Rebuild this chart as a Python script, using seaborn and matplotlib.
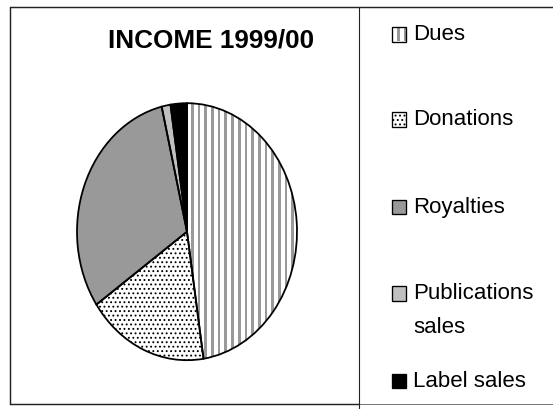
import matplotlib
matplotlib.use("Agg")
import matplotlib.pyplot as plt
from matplotlib.lines import Line2D
from matplotlib.patches import Rectangle
import numpy as np
import seaborn as sns

# data (share of income, %)
categories = ["Dues", "Donations", "Royalties", "Publications\nsales", "Label sales"]
shares = [47.6, 17.8, 30.9, 1.3, 2.4]
title = "INCOME 1999/00"

# styling per slice ("stripes" = grey/white vertical stripe texture)
face_colors = ["white", "white", "#999999", "#c0c0c0", "black"]
hatch_colors = ["#999999", "black", "#999999", "#c0c0c0", "black"]
hatches = ["stripes", "...", None, None, None]

sns.set_theme(style="white")
plt.rcParams["font.family"] = ["Liberation Sans", "DejaVu Sans"]

W, H, DPI = 553, 409, 80
fig = plt.figure(figsize=(W / DPI, H / DPI), dpi=DPI)
fig.patch.set_facecolor("white")


def fx(px):
    return px / W


def fy(py):
    return 1 - py / H


def stripe_texture(width_px, period=6.7, band=2.7, color="#999999", sub=4):
    n = int(round(width_px * sub))
    pos = np.arange(n) / sub
    grey = np.array(matplotlib.colors.to_rgb(color))
    img = np.ones((1, n, 3))
    img[0, (pos % period) < band] = grey
    return img


def fill_patch(axis, patch, style, color, extent, width_px):
    if style == "stripes":
        im = axis.imshow(stripe_texture(width_px, color=color), extent=extent,
                         aspect="auto", interpolation="nearest", zorder=patch.get_zorder())
        im.set_clip_path(patch)
    elif style:
        patch.set_hatch(style)
        patch.set_edgecolor(color)


# elliptical pie: axes stretched, aspect left free
cx, cy, rx, ry = 187, 231.7, 110, 128.5
ax = fig.add_axes([fx(cx - rx), fy(cy + ry), 2 * rx / W, 2 * ry / H])

wedges, _ = ax.pie(shares, startangle=90, counterclock=False, colors=face_colors,
                   wedgeprops=dict(linewidth=0, clip_on=False))
for w, h, hc in zip(wedges, hatches, hatch_colors):
    fill_patch(ax, w, h, hc, (-1, 1, -1, 1), 2 * rx)

ax.pie(shares, startangle=90, counterclock=False,
       wedgeprops=dict(fill=False, edgecolor="black", linewidth=1.6, clip_on=False,
                       zorder=5))
ax.set_aspect("auto")
ax.set_xlim(-1, 1)
ax.set_ylim(-1, 1)
ax.axis("off")

# overlay axes in pixel units for title, legend and frame
ov = fig.add_axes([0, 0, 1, 1], zorder=-1)
ov.set_xlim(0, W)
ov.set_ylim(H, 0)
ov.axis("off")

ov.text(211.5, 47.3, title, ha="center", va="baseline",
        fontsize=23.5, fontweight="bold", color="black")

# legend, built by hand so the handle sits on the first text line
legend_baselines = [40, 125, 212.7, 299, 386.7]
sq_w, sq_h = 13.5, 14.5
for label, base, fc, hc, h in zip(categories, legend_baselines, face_colors,
                                  hatch_colors, hatches):
    x0, y0 = 392, base + 1.5 - sq_h
    sq = Rectangle((x0, y0), sq_w, sq_h, facecolor=fc, edgecolor="none", linewidth=0)
    ov.add_patch(sq)
    fill_patch(ov, sq, h, hc, (x0 - 1.5, x0 + sq_w, y0 + sq_h, y0), sq_w + 1.5)
    ov.add_patch(Rectangle((x0, y0), sq_w, sq_h, fill=False, edgecolor="black",
                           linewidth=1.2, zorder=5))
    for i, line in enumerate(label.split("\n")):
        ov.text(413, base + 34 * i, line, ha="left", va="baseline",
                fontsize=20, color="black")

# frame lines
frame = [((9.5, 7), (553, 7), "#222222", 1.3),
         ((9.5, 7), (9.5, 404), "#222222", 1.3),
         ((9.5, 404), (359, 404), "#222222", 1.3),
         ((359, 404), (553, 404), "#777777", 0.9),
         ((359, 7), (359, 409), "#222222", 1.0)]
for (x0, y0), (x1, y1), col, lw in frame:
    ov.add_line(Line2D([x0, x1], [y0, y1], color=col, linewidth=lw))

fig.savefig("out.png", dpi=DPI, facecolor="white")
plt.close(fig)
